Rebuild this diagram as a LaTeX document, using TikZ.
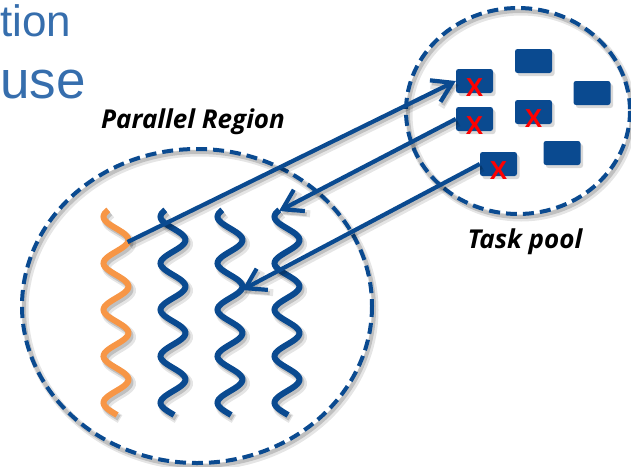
\documentclass[tikz,border=0pt]{standalone}
\usepackage{fontspec}
\setmainfont{Liberation Sans}
\newfontfamily\lblfont{Open Sans}
\usetikzlibrary{arrows.meta,shadows}
\definecolor{dblue}{HTML}{0A4A90}
\definecolor{orng}{HTML}{F79646}
\definecolor{sblue}{HTML}{366EAD}
\begin{document}
\begin{tikzpicture}[x=1pt,y=-1pt,
  shd/.style={preaction={draw=black, draw opacity=0.10, line width=#1+3pt, transform canvas={xshift=3pt,yshift=-4pt}},
              preaction={draw=black, draw opacity=0.16, line width=#1, transform canvas={xshift=2pt,yshift=-3pt}}},
  pool/.style={draw=dblue, line width=4pt, dash pattern=on 11pt off 6pt, shd=4pt},
  thread/.style={line width=6pt, shd=6pt},
  arr/.style={draw=dblue, line width=4.2pt, -{Straight Barb[length=19pt,width=24pt]}},
  task/.style={fill=dblue, rounded corners=2.5pt, minimum width=37pt, minimum height=24pt, inner sep=0pt,
               text=red, font=\bfseries\fontsize{26}{26}\selectfont,
               drop shadow={opacity=0.3, shadow xshift=2.5pt, shadow yshift=-3pt}},
  lbl/.style={font=\lblfont\bfseries\itshape\fontsize{26}{26}\selectfont, inner sep=0pt},
  ttl/.style={text=sblue, inner sep=0pt, anchor=base west}]
\useasboundingbox (0,0) rectangle (631,466);

% slide title fragments
\node[ttl, font=\fontsize{44}{44}\selectfont] (t1txt) at (0,36) {tion};
\node[ttl, font=\fontsize{53}{53}\selectfont] (t2txt) at (0,98) {use};

% regions
\draw[pool] (197,306) ellipse [x radius=175, y radius=157];
\draw[pool] (518,111) ellipse [x radius=112, y radius=103];

% threads
\draw[thread, orng] plot[domain=210:415, samples=120, smooth] ({116+12.5*cos((\x-240)*7.742)}, \x);
\draw[thread, dblue] plot[domain=210:415, samples=120, smooth] ({173+12.5*cos((\x-240)*7.742)}, \x);
\draw[thread, dblue] plot[domain=210:415, samples=120, smooth] ({230+12.5*cos((\x-240)*7.742)}, \x);
\draw[thread, dblue] plot[domain=210:415, samples=120, smooth] ({287+12.5*cos((\x-240)*7.742)}, \x);

% tasks
\node[task] (k1) at (474.5,81) {\smash{\raisebox{-15pt}{X}}};
\node[task] (k2) at (533.5,61) {};
\node[task] (k3) at (592,93) {};
\node[task] (k4) at (474.5,119) {\smash{\raisebox{-15pt}{X}}};
\node[task] (k5) at (533.5,112) {\smash{\raisebox{-15pt}{X}}};
\node[task] (k6) at (562,153) {};
\node[task] (k7) at (498.5,164) {\smash{\raisebox{-15pt}{X}}};

% labels
\node[lbl] (pr) at (193,122) {Parallel Region};
\node[lbl] (tp) at (525,242) {Task pool};

% arrow end points on threads
\coordinate (o1) at (127.6,242);
\coordinate (b4) at (279,211);
\coordinate (b3) at (242,290);

\draw[arr, shd=4pt] (o1) -- (k1.west);
\draw[arr, shd=4pt] (k4.west) -- (b4);
\draw[arr, shd=4pt] (k7.west) -- (b3);
\end{tikzpicture}
\end{document}
